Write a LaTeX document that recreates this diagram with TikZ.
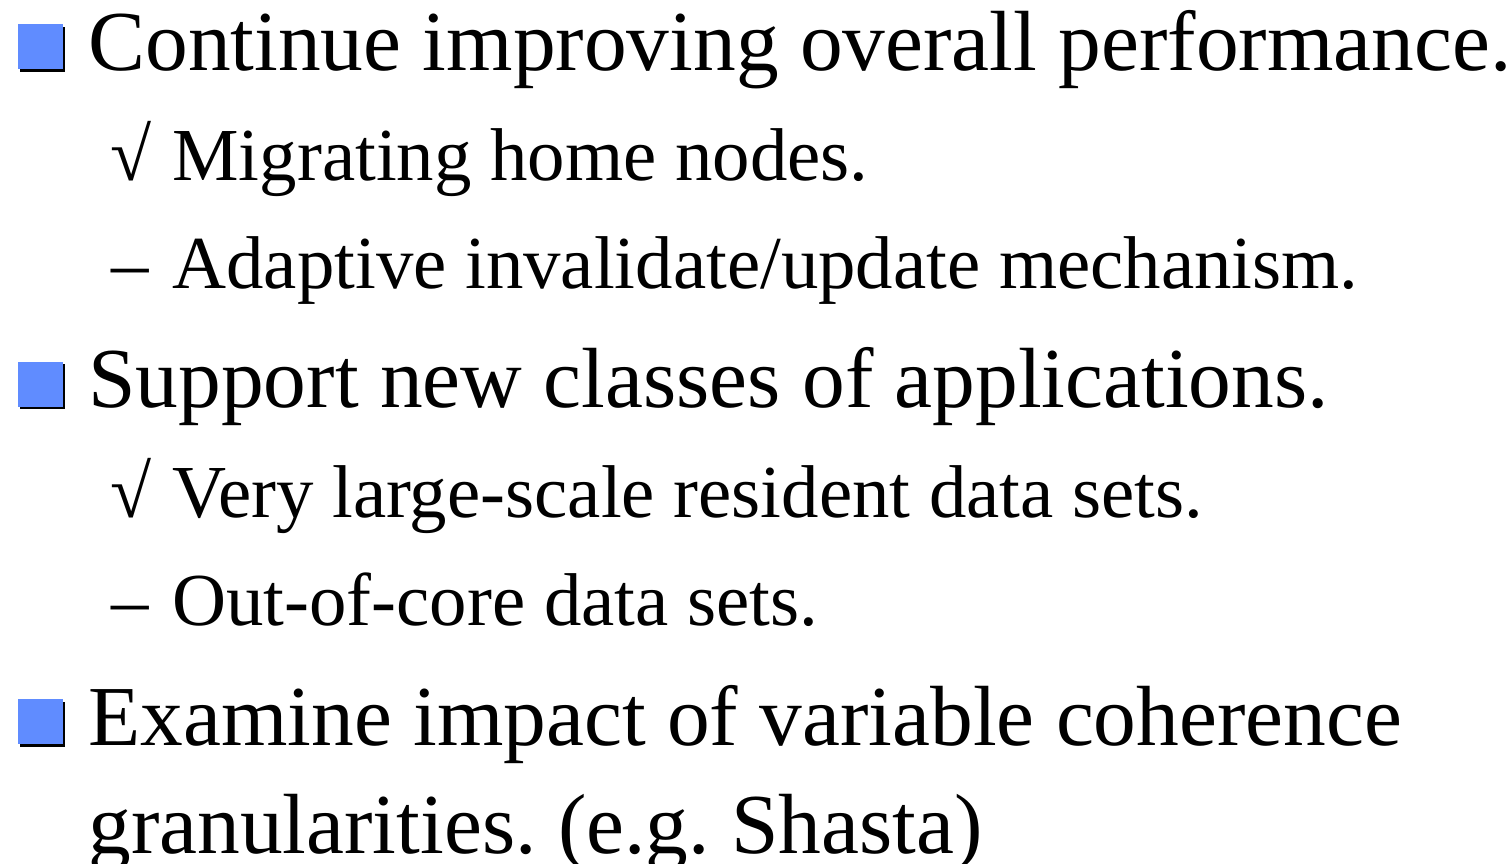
\documentclass[tikz,border=0pt]{standalone}
\usepackage{fontspec}
\setmainfont{Liberation Serif}
\usetikzlibrary{shadows}
\definecolor{bulletblue}{RGB}{96,140,255}
\frenchspacing

\begin{document}
\begin{tikzpicture}[
    x=0.5pt, y=-0.5pt,
    mainitem/.style={anchor=base west, inner sep=0pt, font=\fontsize{42.7}{50}\selectfont},
    subitem/.style={anchor=base west, inner sep=0pt, font=\fontsize{37.4}{44}\selectfont},
    bulletbox/.style={rectangle, inner sep=0pt, minimum size=22.5pt, fill=bulletblue,
                      drop shadow={shadow xshift=1.2pt, shadow yshift=-1.4pt, fill=black, opacity=1}},
    itemmark/.style={anchor=base west, inner sep=0pt, font=\fontsize{37.4}{44}\selectfont},
  ]
  \useasboundingbox (0,0) rectangle (1511,863);
  % first bullet
  \node[bulletbox] (b1) at (40,46.5) {};
  \node[mainitem] (t1) at (88,70) {Continue improving overall performance.};
  \node[itemmark] (m2) at (110,180) {√};
  \node[subitem] (t2) at (172,180) {Migrating home nodes.};
  \node[itemmark] (m3) at (111,288) {–};
  \node[subitem] (t3) at (172,288) {Adaptive invalidate/update mechanism.};
  % second bullet
  \node[bulletbox] (b4) at (40,384) {};
  \node[mainitem] (t4) at (88,407) {Support new classes of applications.};
  \node[itemmark] (m5) at (110,517) {√};
  \node[subitem] (t5) at (172,517) {Very large-scale resident data sets.};
  \node[itemmark] (m6) at (111,625) {–};
  \node[subitem] (t6) at (172,625) {Out-of-core data sets.};
  % third bullet
  \node[bulletbox] (b7) at (40,721.5) {};
  \node[mainitem] (t7) at (88,745) {Examine impact of variable coherence};
  \node[mainitem] (t8) at (88,853) {granularities. (e.g. Shasta)};
\end{tikzpicture}
\end{document}
